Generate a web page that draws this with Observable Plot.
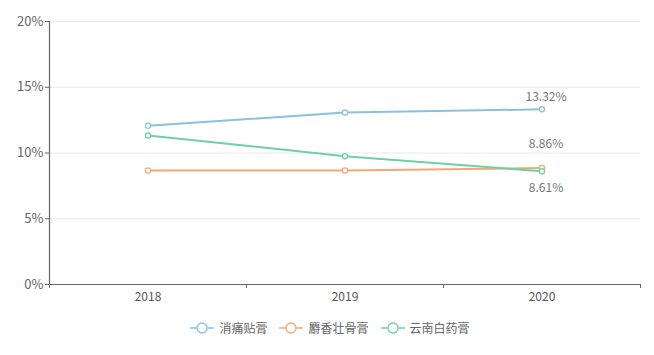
<!DOCTYPE html>
<html><head><meta charset="utf-8">
<script src="https://cdn.jsdelivr.net/npm/d3@7"></script>
<script src="https://cdn.jsdelivr.net/npm/@observablehq/plot@0.6"></script>
<style>
body{margin:0;background:#fff;font-family:"Noto Sans CJK SC","Noto Sans",sans-serif;}
#legend{display:flex;justify-content:center;gap:12px;margin-top:14px;font-size:12px;color:#666;padding-left:6px}
#legend .item{display:flex;align-items:center;gap:5px}
</style></head>
<body><div id="chart"></div><div id="legend"></div>
<script>
const years = ["2018","2019","2020"];
const seriesNames = ["消痛贴膏","麝香壮骨膏","云南白药膏"];
const xiaotong = [12.07, 13.08, 13.32];
const shexiang = [8.67, 8.67, 8.86];
const yunnan = [11.33, 9.76, 8.61];
const colors = ["#88c3dd","#f2a878","#6fcfa5"];
const yTicks = [0,5,10,15,20];
const endLabels = ["13.32%","8.86%","8.61%"];

const allSeries = [xiaotong, shexiang, yunnan];
const data = [];
allSeries.forEach((vals, s) => vals.forEach((v, i) => data.push({series: seriesNames[s], year: years[i], idx: i + 0.5, value: v})));
const last = allSeries.map((vals, s) => ({series: seriesNames[s], idx: years.length - 0.5, value: vals[vals.length-1], label: endLabels[s]}));
const offs = [-12, -24, 17];

const chart = Plot.plot({
  width: 654, height: 305,
  marginLeft: 49, marginRight: 14, marginTop: 21, marginBottom: 21,
  style: {fontFamily: '"Noto Sans CJK SC","Noto Sans",sans-serif', fontSize: "12px", color: "#666", background: "#fff"},
  x: {type: "linear", domain: [0, years.length], axis: null, label: null},
  y: {domain: [0, 20], axis: null, label: null},
  color: {domain: seriesNames, range: colors},
  marks: [
    Plot.gridY(yTicks.slice(1), {stroke: "#e8e8e8", strokeOpacity: 1}),
    Plot.axisY(yTicks, {tickFormat: d => d + "%", tickSize: 4, stroke: "#666", fill: "#666", fontSize: 13, tickPadding: 2, label: null}),
    Plot.ruleX([0], {stroke: "#666", strokeWidth: 1.2}),
    Plot.ruleY([0], {stroke: "#666", strokeWidth: 1.2}),
    Plot.axisX(d3.range(0, years.length + 1), {tickFormat: () => "", tickSize: 4, stroke: "#666", label: null}),
    Plot.axisX(years.map((y, i) => i + 0.5), {tickFormat: (d, i) => years[i], tickSize: 0, tickPadding: 8, fill: "#555", fontSize: 12, label: null}),
    Plot.line(data, {x: "idx", y: "value", z: "series", stroke: "series", strokeWidth: 2}),
    Plot.dot(data, {x: "idx", y: "value", stroke: "series", fill: "#fff", r: 2.6, strokeWidth: 1.3}),
    ...last.map((d, s) => Plot.text([d], {x: "idx", y: "value", text: "label", fill: "#777", fontSize: 12, dy: offs[s], dx: 4}))
  ]
});
document.getElementById("chart").appendChild(chart);

const legend = document.getElementById("legend");
seriesNames.forEach((name, s) => {
  const item = document.createElement("div");
  item.className = "item";
  item.innerHTML = `<svg width="24" height="12"><line x1="0" y1="6" x2="24" y2="6" stroke="${colors[s]}" stroke-width="1.5"/><circle cx="12" cy="6" r="5" fill="#fff" stroke="${colors[s]}" stroke-width="1.3"/></svg><span>${name}</span>`;
  legend.appendChild(item);
});
</script>
</body></html>
